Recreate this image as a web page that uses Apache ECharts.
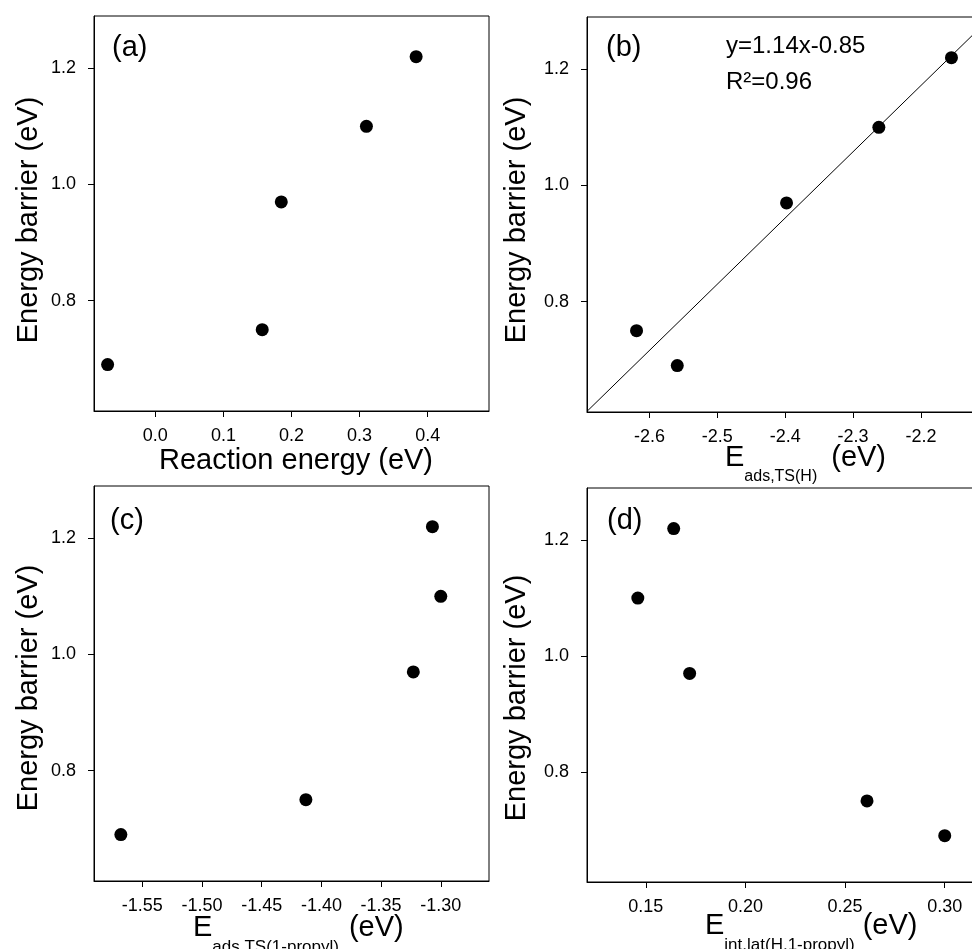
<!DOCTYPE html>
<html><head><meta charset="utf-8">
<script src="https://cdn.jsdelivr.net/npm/echarts@6/dist/echarts.min.js"></script>
<style>html,body{margin:0;padding:0;background:#fff}#c{width:972px;height:949px}</style>
</head><body><div id="c"></div>
<script>
// ---- data ----
const energyBarrier = [0.69, 0.75, 0.97, 1.10, 1.22];
const reactionEnergy = [-0.070, 0.157, 0.185, 0.310, 0.383];
const eAdsTSH = [-2.559, -2.619, -2.398, -2.262, -2.155];
const eAdsTSPropyl = [-1.568, -1.413, -1.323, -1.300, -1.307];
const eIntLat = [0.300, 0.261, 0.172, 0.146, 0.164];
const fitSlope = 1.14, fitIntercept = 3.68;
const yTicks = [0.8, 1.0, 1.2];
const xTicksA = [0.0, 0.1, 0.2, 0.3, 0.4];
const xTicksB = [-2.6, -2.5, -2.4, -2.3, -2.2];
const xTicksC = [-1.55, -1.50, -1.45, -1.40, -1.35, -1.30];
const xTicksD = [0.15, 0.20, 0.25, 0.30];
const panelLabels = ['(a)', '(b)', '(c)', '(d)'];
const fitText = ['y=1.14x-0.85', 'R\u00b2=0.96'];

const FF = '"Liberation Sans", Arial, Helvetica, sans-serif';
const yRange = [0.61, 1.29];
const xRanges = [[-0.09, 0.49], [-2.692, -2.110], [-1.5905, -1.2596], [0.1205, 0.3187]];
const xDec = [1, 1, 2, 2];
const xTicks = [xTicksA, xTicksB, xTicksC, xTicksD];
const xVals = [reactionEnergy, eAdsTSH, eAdsTSPropyl, eIntLat];

const grids = [
  {left: 94, top: 16, width: 395, height: 395},
  {left: 587, top: 17, width: 395, height: 395},
  {left: 94, top: 486, width: 395, height: 395},
  {left: 587, top: 488, width: 395, height: 394}
].map(g => Object.assign({show: true, borderColor: '#000', borderWidth: 1, backgroundColor: 'transparent',
  containLabel: false, outerBoundsMode: 'none'}, g));

function axisCommon(ticks, dec, margin) {
  return {
    type: 'value', splitLine: {show: false},
    axisLine: {show: true, onZero: false, lineStyle: {color: '#000', width: 1}},
    axisTick: {show: true, inside: false, length: 6, customValues: ticks, lineStyle: {color: '#000', width: 1}},
    axisLabel: {customValues: ticks, formatter: v => v.toFixed(dec), margin: margin, fontSize: 18, color: '#000', fontFamily: FF}
  };
}
const xAxes = xRanges.map((r, i) => Object.assign(axisCommon(xTicks[i], xDec[i], 16), {gridIndex: i, min: r[0], max: r[1]}));
const yAxes = [0,1,2,3].map(i => Object.assign(axisCommon(yTicks, 1, 18), {gridIndex: i, min: yRange[0], max: yRange[1]}));

const series = xVals.map((xs, i) => ({
  type: 'scatter', xAxisIndex: i, yAxisIndex: i, symbolSize: 13,
  itemStyle: {color: '#000', opacity: 1}, emphasis: {disabled: true},
  data: xs.map((x, k) => [x, energyBarrier[k]])
}));
series.push({
  type: 'line', xAxisIndex: 1, yAxisIndex: 1, showSymbol: false, clip: true,
  lineStyle: {color: '#000', width: 1},
  data: xRanges[1].map(x => [x, fitSlope * x + fitIntercept])
});

function txt(x, y, text, size) {
  return {type: 'text', x: x, y: y, style: {text: text, fontSize: size, fontFamily: FF, fill: '#000', align: 'left', verticalAlign: 'middle'}};
}
function subTitle(x, y, sub, subSize, gap) {
  return {type: 'text', x: x, y: y, style: {
    text: '{m|E}{s|' + sub + '}{e|(eV)}', align: 'left', verticalAlign: 'middle', fill: '#000', fontFamily: FF,
    rich: {
      m: {fontSize: 29, lineHeight: 32, fontFamily: FF, fill: '#000'},
      s: {fontSize: subSize, lineHeight: 16, padding: [38, 0, 0, 0], fontFamily: FF, fill: '#000'},
      e: {fontSize: 29, lineHeight: 32, padding: [0, 0, 0, gap], fontFamily: FF, fill: '#000'}
    }
  }};
}
function yTitle(x, y) {
  return {type: 'text', x: x, y: y, rotation: Math.PI / 2, style: {text: 'Energy barrier (eV)', fontSize: 29, fontFamily: FF, fill: '#000', align: 'center', verticalAlign: 'middle'}};
}

const graphic = [
  txt(112, 48, panelLabels[0], 29), txt(606, 48, panelLabels[1], 29),
  txt(110, 521, panelLabels[2], 29), txt(607, 521, panelLabels[3], 29),
  txt(726, 46, fitText[0], 24), txt(726, 82, fitText[1], 24),
  yTitle(29, 220), yTitle(517, 220), yTitle(29, 688), yTitle(517, 698),
  {type: 'text', x: 296, y: 461, style: {text: 'Reaction energy (eV)', fontSize: 29, fontFamily: FF, fill: '#000', align: 'center', verticalAlign: 'middle'}},
  subTitle(725, 458, 'ads,TS(H)', 16, 14),
  subTitle(193, 928, 'ads,TS(1-propyl)', 17, 10),
  subTitle(705, 926, 'int,lat(H,1-propyl)', 17, 8)
];

const chart = echarts.init(document.getElementById('c'), null, {renderer: 'canvas'});
chart.setOption({
  animation: false, backgroundColor: '#fff',
  grid: grids, xAxis: xAxes, yAxis: yAxes, series: series, graphic: graphic
});
</script></body></html>
